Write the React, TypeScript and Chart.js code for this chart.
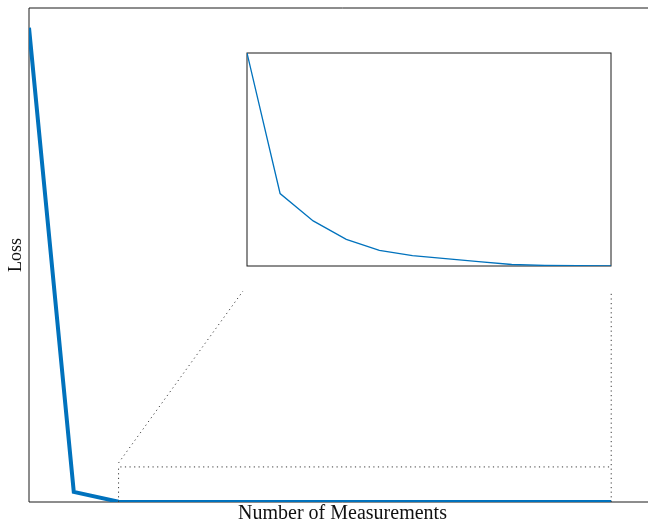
import React, { useEffect, useRef } from "react";
import { Chart, registerables } from "chart.js";

Chart.register(...registerables);

// ---- data ----
const measurements = [1, 2, 3, 4, 5, 6, 7, 8, 9, 10, 11, 12, 13, 14];
const lossValues = [
  0.96, 0.0205, 0.0006, 0.00022, 0.000146, 0.000096, 0.000066, 0.000052,
  0.000044, 0.000036, 0.000028, 0.0000256, 0.0000248, 0.000024,
];
const xAxisTitle = "Number of Measurements";
const yAxisTitle = "Loss";
const zoomFromIndex = 2; // inset shows measurements 3..14
const zoomBoxTopValue = 0.071;

// ---- styles / layout ----
const LINE_COLOR = "rgb(0,114,189)";
const AXIS_COLOR = "#1a1a1a";
const DOT_COLOR = "#3a3a3a";
const FONT = "'Liberation Serif', 'Times New Roman', serif";
const MAIN_W = 656;
const MAIN_H = 524;
const INSET = { left: 247, top: 53, width: 364, height: 213 };

export default function App() {
  const mainRef = useRef<HTMLCanvasElement | null>(null);
  const insetRef = useRef<HTMLCanvasElement | null>(null);

  useEffect(() => {
    if (!mainRef.current || !insetRef.current) return;

    const mainDecor = {
      id: "mainDecor",
      beforeDatasetsDraw(chart: any) {
        const { ctx, chartArea } = chart;
        ctx.save();
        ctx.strokeStyle = AXIS_COLOR;
        ctx.lineWidth = 1;
        ctx.beginPath();
        ctx.moveTo(chartArea.left, chartArea.bottom);
        ctx.lineTo(chartArea.left, chartArea.top);
        ctx.lineTo(chartArea.right, chartArea.top);
        ctx.lineTo(chartArea.right, chartArea.bottom);
        ctx.lineTo(chartArea.left, chartArea.bottom);
        ctx.stroke();
        ctx.restore();
      },
      afterDatasetsDraw(chart: any) {
        const { ctx } = chart;
        const xs = chart.scales.x;
        const ys = chart.scales.y;
        const x0 = xs.getPixelForValue(measurements[zoomFromIndex]);
        const x1 = xs.getPixelForValue(measurements[measurements.length - 1]);
        const yb = ys.getPixelForValue(0);
        const yt = ys.getPixelForValue(zoomBoxTopValue);
        const insetBottom = INSET.top + INSET.height;
        ctx.save();
        ctx.strokeStyle = DOT_COLOR;
        ctx.lineWidth = 1;
        ctx.setLineDash([1.2, 3.4]);
        ctx.beginPath();
        ctx.moveTo(x0, yb);
        ctx.lineTo(x0, yt);
        ctx.lineTo(x1, yt);
        ctx.moveTo(x1, yb);
        ctx.lineTo(x1, insetBottom + 25);
        ctx.stroke();
        ctx.beginPath();
        ctx.moveTo(x0, yt - 4);
        ctx.lineTo(INSET.left - 4, insetBottom + 25);
        ctx.stroke();
        ctx.restore();
      },
    };

    const main = new Chart(mainRef.current, {
      type: "line",
      data: {
        datasets: [
          {
            data: measurements.map((m, i) => ({ x: m, y: lossValues[i] })),
            borderColor: LINE_COLOR,
            borderWidth: 4,
            pointRadius: 0,
            tension: 0,
            fill: false,
          },
        ],
      },
      options: {
        responsive: false,
        animation: false,
        devicePixelRatio: 1,
        layout: { padding: { left: 6, top: 8, right: 0, bottom: 0 } },
        plugins: { legend: { display: false }, tooltip: { enabled: false } },
        scales: {
          x: {
            type: "linear",
            min: 1,
            max: 15,
            ticks: { display: false },
            grid: { display: false, drawTicks: false },
            border: { display: false },
            title: {
              display: true,
              text: xAxisTitle,
              color: "#111",
              font: { family: FONT, size: 20, lineHeight: 1.1 },
              padding: { top: 1, bottom: -1 },
            },
          },
          y: {
            type: "linear",
            min: 0,
            max: 1,
            ticks: { display: false },
            grid: { display: false, drawTicks: false },
            border: { display: false },
            title: {
              display: true,
              text: yAxisTitle,
              color: "#111",
              font: { family: FONT, size: 18, lineHeight: 1.1 },
              padding: { top: 0.7, bottom: 2.5 },
            },
          },
        },
      },
      plugins: [mainDecor],
    });

    const insetDecor = {
      id: "insetDecor",
      beforeDatasetsDraw(chart: any) {
        const { ctx, chartArea } = chart;
        ctx.save();
        ctx.strokeStyle = AXIS_COLOR;
        ctx.lineWidth = 1;
        ctx.strokeRect(
          chartArea.left,
          chartArea.top,
          chartArea.right - chartArea.left,
          chartArea.bottom - chartArea.top
        );
        ctx.restore();
      },
    };

    const insetX = measurements.slice(zoomFromIndex);
    const insetY = lossValues.slice(zoomFromIndex);
    const inset = new Chart(insetRef.current, {
      type: "line",
      data: {
        datasets: [
          {
            data: insetX.map((m, i) => ({ x: m, y: insetY[i] })),
            borderColor: LINE_COLOR,
            borderWidth: 1.3,
            pointRadius: 0,
            tension: 0,
            fill: false,
          },
        ],
      },
      options: {
        responsive: false,
        animation: false,
        devicePixelRatio: 1,
        layout: { padding: 1 },
        plugins: { legend: { display: false }, tooltip: { enabled: false } },
        scales: {
          x: {
            type: "linear",
            display: false,
            min: insetX[0],
            max: insetX[insetX.length - 1],
          },
          y: {
            type: "linear",
            display: false,
            min: Math.min(...insetY),
            max: Math.max(...insetY),
          },
        },
      },
      plugins: [insetDecor],
    });

    return () => {
      main.destroy();
      inset.destroy();
    };
  }, []);

  return (
    <div
      style={{
        position: "fixed",
        left: 0,
        top: 0,
        width: 648,
        height: 524,
        overflow: "hidden",
        background: "#fff",
      }}
    >
      <canvas
        ref={mainRef}
        width={MAIN_W}
        height={MAIN_H}
        style={{ position: "absolute", left: 0, top: 0, width: MAIN_W, height: MAIN_H }}
      />
      <canvas
        ref={insetRef}
        width={INSET.width + 2}
        height={INSET.height + 2}
        style={{
          position: "absolute",
          left: INSET.left - 1,
          top: INSET.top - 1,
          width: INSET.width + 2,
          height: INSET.height + 2,
        }}
      />
    </div>
  );
}
